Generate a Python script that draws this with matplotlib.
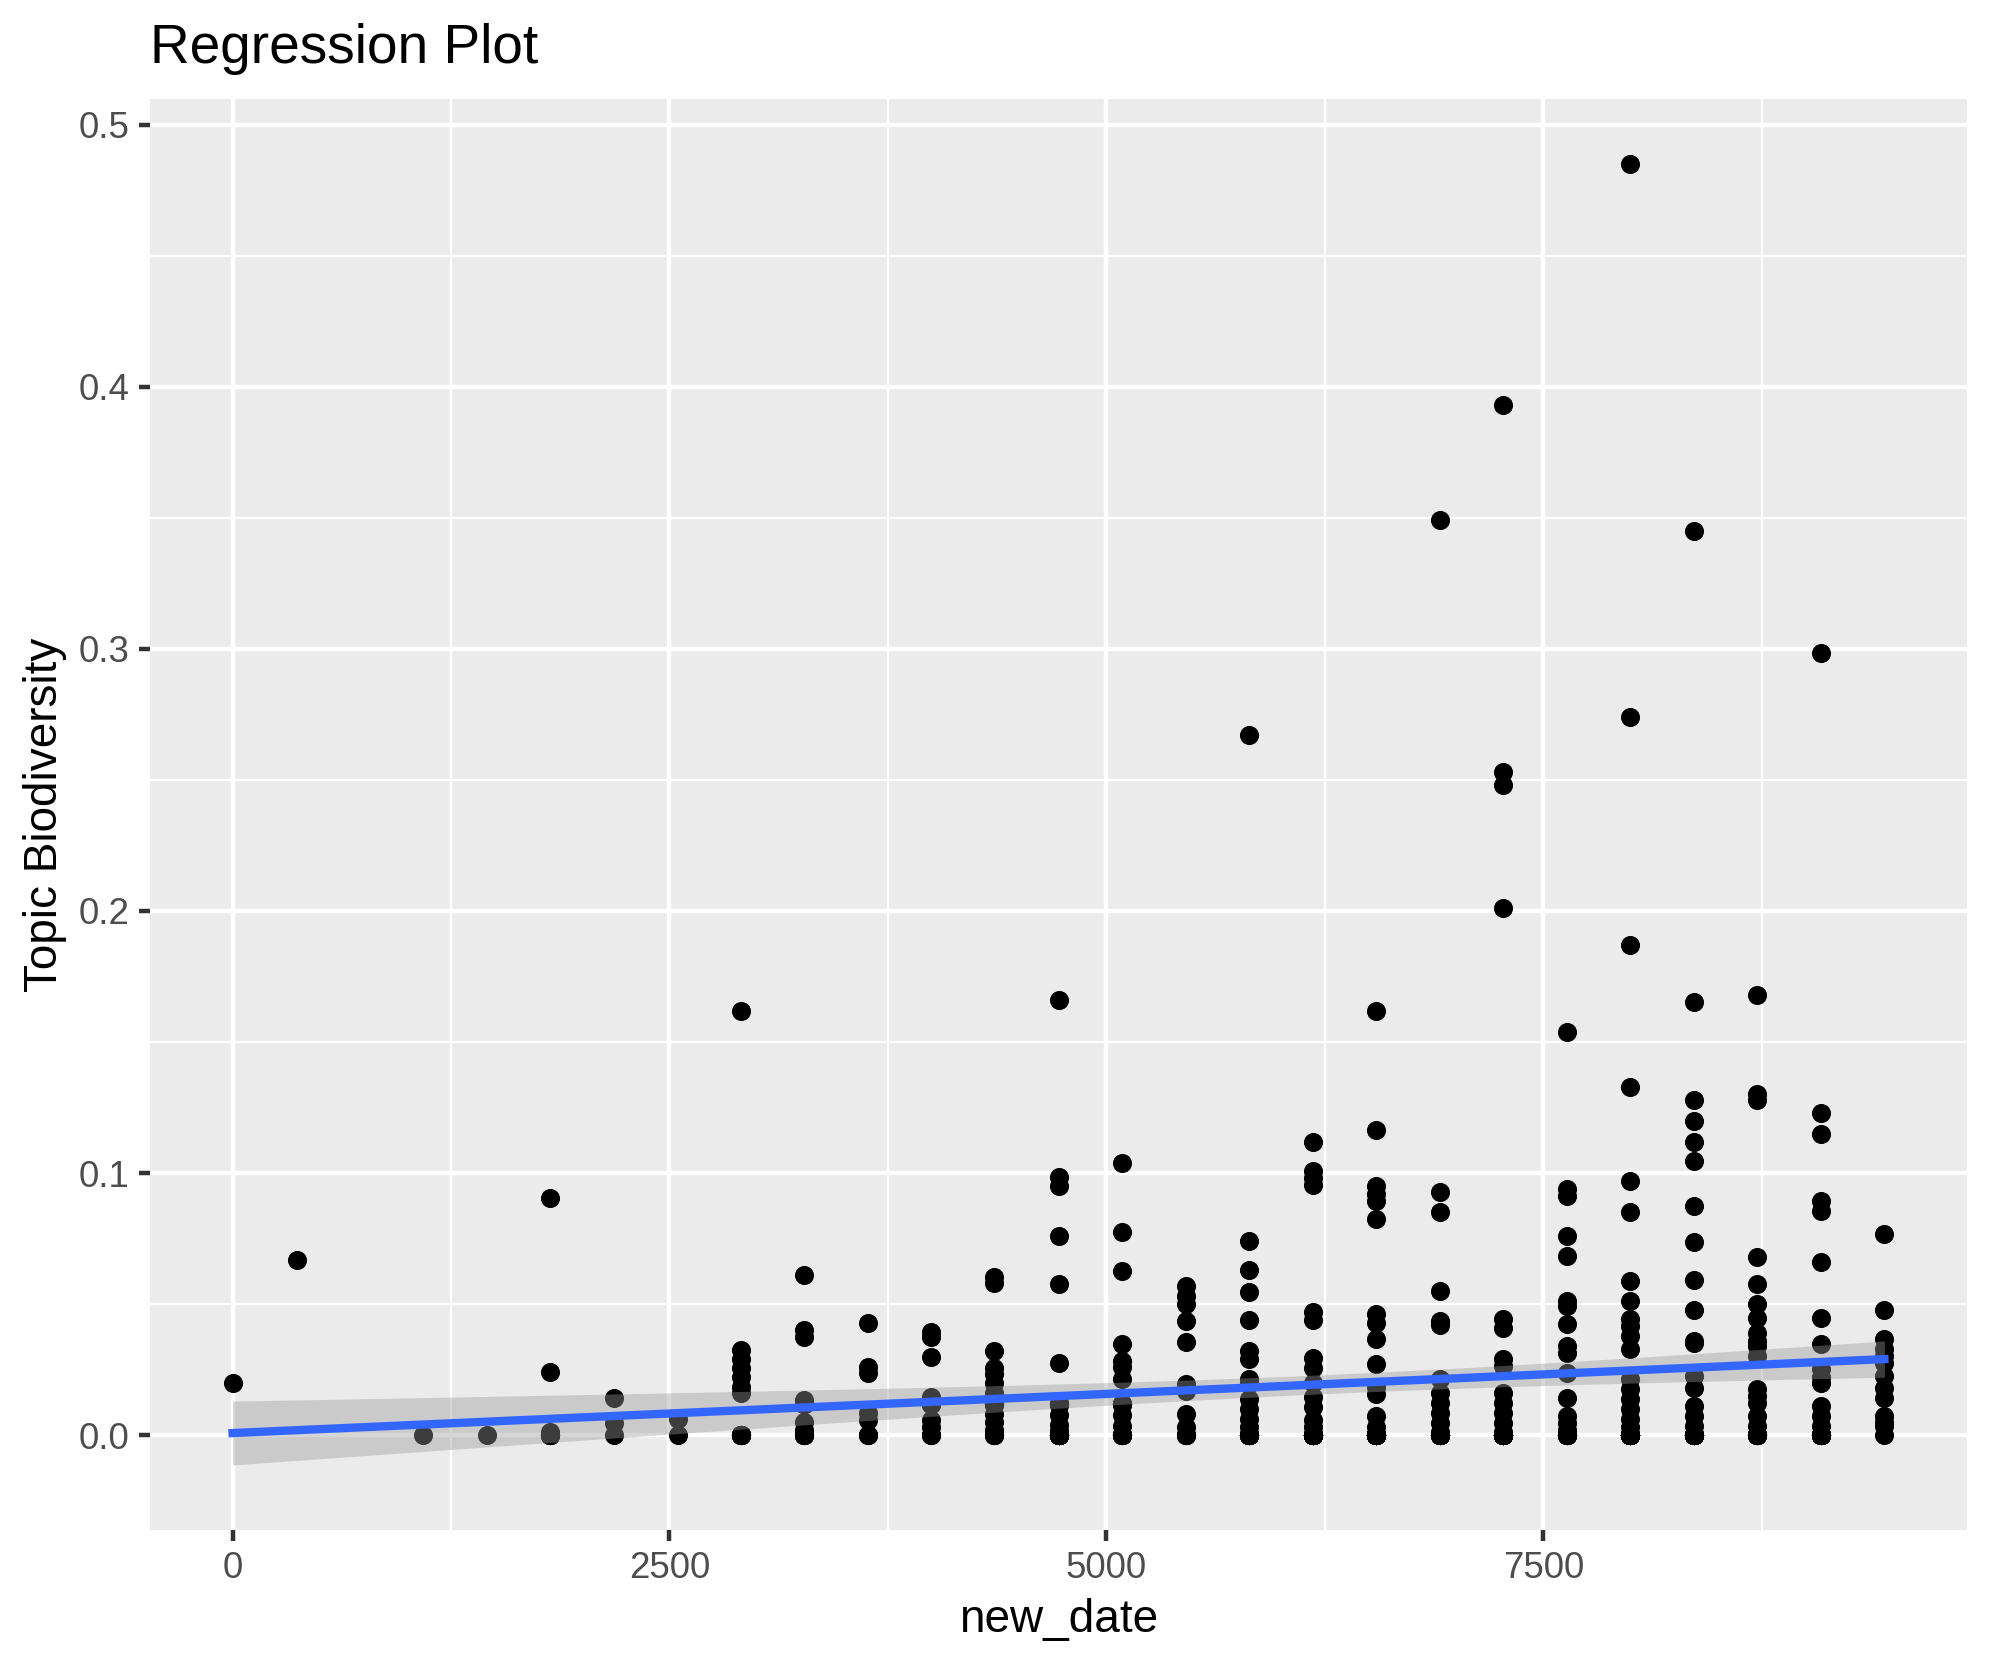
import numpy as np
import matplotlib
matplotlib.use("Agg")
import matplotlib.pyplot as plt

plt.rcParams['font.family'] = ['Liberation Sans', 'DejaVu Sans']

# new_date value of each column of points
dates = [0, 366, 1092, 1456, 1818, 2182, 2548, 2910, 3272, 3634, 3996, 4358,
         4728, 5090, 5454, 5816, 6180, 6544, 6909, 7271, 7636, 7999, 8361,
         8724, 9089, 9452]

# Topic Biodiversity values (same order as dates)
biodiversity = [
    [0.020],
    [0.067],
    [0.0],
    [0.0],
    [0.0906, 0.0242, 0.001, 0.0],
    [0.0143, 0.0045, 0.0],
    [0.006, 0.0],
    [0.162, 0.0325, 0.029, 0.0255, 0.022, 0.0185, 0.016, 0.0],
    [0.0611, 0.0401, 0.0373, 0.0134, 0.012, 0.005, 0.002, 0.0],
    [0.0429, 0.0261, 0.0236, 0.0083, 0.0057, 0.0],
    [0.0395, 0.0376, 0.0299, 0.0146, 0.0057, 0.003, 0.0],
    [0.0605, 0.058, 0.0322, 0.0255, 0.0235, 0.020, 0.016, 0.012, 0.008,
     0.005, 0.002, 0.0],
    [0.166, 0.0983, 0.0949, 0.076, 0.0578, 0.0276, 0.012, 0.0075, 0.004,
     0.0015, 0.0],
    [0.104, 0.0776, 0.0627, 0.0346, 0.0283, 0.026, 0.0213, 0.012, 0.0075,
     0.0035, 0.0],
    [0.0569, 0.053, 0.050, 0.0436, 0.0357, 0.0194, 0.017, 0.008, 0.003, 0.0],
    [0.267, 0.0741, 0.0629, 0.0546, 0.0439, 0.0321, 0.0289, 0.0213, 0.0195,
     0.0136, 0.0098, 0.006, 0.003, 0.0],
    [0.1118, 0.1006, 0.098, 0.0955, 0.0471, 0.044, 0.0293, 0.0255, 0.0197,
     0.0146, 0.0108, 0.0057, 0.003, 0.0],
    [0.162, 0.1166, 0.0949, 0.092, 0.0894, 0.0824, 0.0461, 0.0429, 0.0366,
     0.027, 0.0185, 0.0155, 0.0073, 0.003, 0.0],
    [0.349, 0.0926, 0.085, 0.055, 0.0436, 0.042, 0.0213, 0.0162, 0.0124,
     0.0085, 0.0047, 0.001, 0.0],
    [0.393, 0.253, 0.248, 0.201, 0.0442, 0.041, 0.0289, 0.0264, 0.0162,
     0.0124, 0.0085, 0.0047, 0.001, 0.0],
    [0.1538, 0.0939, 0.0913, 0.076, 0.0684, 0.0512, 0.0493, 0.0423, 0.034,
     0.0315, 0.0238, 0.0143, 0.0073, 0.0047, 0.002, 0.0],
    [0.485, 0.274, 0.187, 0.133, 0.0968, 0.085, 0.0588, 0.0512, 0.0442,
     0.0416, 0.0378, 0.0327, 0.0213, 0.0175, 0.0136, 0.0098, 0.006, 0.003,
     0.0],
    [0.345, 0.1654, 0.128, 0.120, 0.112, 0.1047, 0.0875, 0.0737, 0.0592,
     0.0478, 0.036, 0.0353, 0.0225, 0.0181, 0.011, 0.0073, 0.0034, 0.0],
    [0.168, 0.130, 0.128, 0.0678, 0.0576, 0.0499, 0.0448, 0.0391, 0.036,
     0.034, 0.0302, 0.0175, 0.015, 0.0124, 0.0073, 0.0034, 0.0],
    [0.2983, 0.123, 0.115, 0.0894, 0.0856, 0.0659, 0.0448, 0.0346, 0.0251,
     0.022, 0.020, 0.011, 0.0073, 0.0034, 0.0],
    [0.0767, 0.0476, 0.0366, 0.0327, 0.030, 0.0276, 0.0225, 0.0181, 0.0143,
     0.0073, 0.005, 0.0034, 0.0],
]

# overplotted points that cannot be told apart in the stacks
# (counts estimated so the fitted line and band match the picture)
hidden_zeros = [0, 0, 0, 0, 12, 0, 0, 13, 9, 3, 3, 7, 26, 13, 7, 22, 32, 42,
                22, 34, 16, 36, 28, 15, 19, 0]
stack_value = 0.012
hidden_in_stack = [0, 0, 0, 0, 0, 0, 0, 0, 10, 0, 10, 10, 10, 10, 0, 0, 0, 0,
                   0, 0, 0, 0, 0, 0, 0, 0]

x_ticks = [0, 2500, 5000, 7500]
y_ticks = [0.0, 0.1, 0.2, 0.3, 0.4, 0.5]

# flatten into points
cols = [list(v) + [0.0] * h + [stack_value] * m
        for v, h, m in zip(biodiversity, hidden_zeros, hidden_in_stack)]
x = np.concatenate([[d] * len(v) for d, v in zip(dates, cols)]).astype(float)
y = np.concatenate([np.array(v, dtype=float) for v in cols])

# linear fit with 95% confidence band (like geom_smooth(method = "lm"))
n = len(x)
slope, intercept = np.polyfit(x, y, 1)
resid = y - (intercept + slope * x)
s = np.sqrt(np.sum(resid ** 2) / (n - 2))
xs = np.linspace(x.min(), x.max(), 80)
fit = intercept + slope * xs
se = s * np.sqrt(1 / n + (xs - x.mean()) ** 2 / np.sum((x - x.mean()) ** 2))
t = 1.964
lo, hi = fit - t * se, fit + t * se

fig = plt.figure(figsize=(1990 / 300, 1665 / 300), dpi=300)
ax = fig.add_axes([150 / 1990, 1 - 1530 / 1665, (1967 - 150) / 1990, (1530 - 99) / 1665])
ax.set_facecolor('#EBEBEB')
for sp in ax.spines.values():
    sp.set_visible(False)

# limits with ggplot's 5% padding
xr = x.max() - x.min()
ax.set_xlim(x.min() - 0.05 * xr, x.max() + 0.05 * xr)
ymin, ymax = min(y.min(), lo.min()), max(y.max(), hi.max())
yr = ymax - ymin
ax.set_ylim(ymin - 0.05 * yr, ymax + 0.05 * yr)
ax.set_xticks(x_ticks)
ax.set_yticks(y_ticks)
ax.set_xticks([1250, 3750, 6250, 8750], minor=True)
ax.set_yticks([0.05, 0.15, 0.25, 0.35, 0.45], minor=True)
ax.grid(which='major', color='white', lw=1.07)
ax.grid(which='minor', color='white', lw=0.53)
ax.set_axisbelow(True)

ax.scatter(x, y, s=21, color='black', linewidths=0, zorder=2)
ax.fill_between(xs, lo, hi, color='#999999', alpha=0.4, lw=0, zorder=3)
ax.plot(xs, fit, color='#3366FF', lw=2.0, zorder=4)

ax.tick_params(which='major', length=2.75, width=1.07, color='#333333',
               labelsize=8.8, labelcolor='#4D4D4D', pad=2.2)
ax.tick_params(which='minor', length=0)
ax.set_xticklabels([str(v) for v in x_ticks])
ax.set_yticklabels([f'{v:.1f}' for v in y_ticks])

ax.set_xlabel('new_date', fontsize=11, labelpad=3)
ax.set_ylabel('Topic Biodiversity', fontsize=11, labelpad=2.75)
fig.text(150 / 1990, 1 - 63 / 1665, 'Regression Plot', fontsize=13.2,
         ha='left', va='baseline')

fig.savefig('out.png', dpi=300)
